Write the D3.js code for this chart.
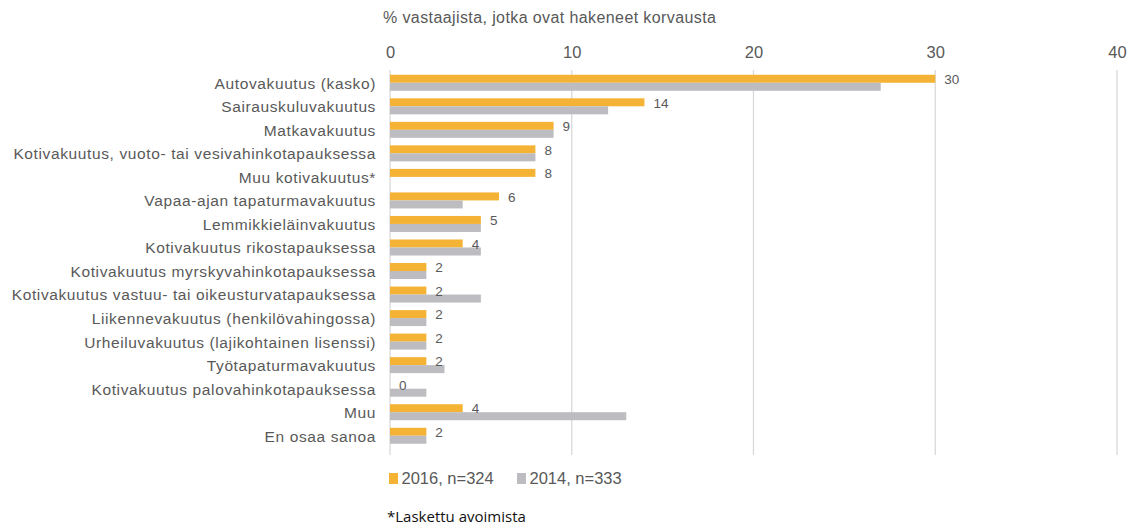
<!DOCTYPE html>
<html><head><meta charset="utf-8">
<script src="https://cdn.jsdelivr.net/npm/d3@7"></script>
<style>body{margin:0;background:#fff;} text{font-family:"Liberation Sans",Arial,sans-serif;}</style>
</head><body><svg id="c" width="1132" height="528"></svg>
<script>
const categories = ["Autovakuutus (kasko)","Sairauskuluvakuutus","Matkavakuutus","Kotivakuutus, vuoto- tai vesivahinkotapauksessa","Muu kotivakuutus*","Vapaa-ajan tapaturmavakuutus","Lemmikkieläinvakuutus","Kotivakuutus rikostapauksessa","Kotivakuutus myrskyvahinkotapauksessa","Kotivakuutus vastuu- tai oikeusturvatapauksessa","Liikennevakuutus (henkilövahingossa)","Urheiluvakuutus (lajikohtainen lisenssi)","Työtapaturmavakuutus","Kotivakuutus palovahinkotapauksessa","Muu","En osaa sanoa"];
const values2016 = [30,14,9,8,8,6,5,4,2,2,2,2,2,0,4,2];
const values2014 = [27,12,9,8,null,4,5,5,2,5,2,2,3,2,13,2];
const seriesNames = ["2016, n=324","2014, n=333"];
const xTicks = [0,10,20,30,40];
const axisTitle = "% vastaajista, jotka ovat hakeneet korvausta";
const footnote = "*Laskettu avoimista";

const svg = d3.select("#c");
const orange = "#F5B335", gray = "#BCBCC1", txt = "#595959", grid = "#D9D9D9";
const x = d3.scaleLinear().domain([0,40]).range([390,1117]);
const y = d3.scaleBand().domain(categories).range([71.5,448]);

// gridlines
svg.append("g").selectAll("line").data(xTicks).join("line")
  .attr("x1",d=>x(d)).attr("x2",d=>x(d)).attr("y1",70).attr("y2",455)
  .attr("stroke",grid).attr("stroke-width",1.3);

// top axis labels
const ax = svg.append("g").attr("transform","translate(0,58)")
  .call(d3.axisTop(x).tickValues(xTicks).tickSize(0).tickPadding(0));
ax.select(".domain").remove();
ax.selectAll("text").attr("fill",txt).style("font-size","16.5px").style("font-family","Liberation Sans, Arial, sans-serif");

svg.append("text").attr("x",383).attr("y",23).attr("fill",txt).style("font-size","16px").style("letter-spacing","0.4px").text(axisTitle);

const bh = 8;
const g = svg.append("g");
g.selectAll(".b16").data(categories).join("rect")
  .attr("x",x(0)).attr("y",d=>y(d)+y.bandwidth()/2-bh-0.5)
  .attr("width",(d,i)=>x(values2016[i])-x(0)).attr("height",bh).attr("fill",orange);
g.selectAll(".b14").data(categories.filter((d,i)=>values2014[i]!=null)).join("rect")
  .attr("x",x(0)).attr("y",d=>y(d)+y.bandwidth()/2-0.5)
  .attr("width",d=>x(values2014[categories.indexOf(d)])-x(0)).attr("height",bh).attr("fill",gray);

// value labels
g.selectAll(".lab").data(categories).join("text")
  .attr("x",(d,i)=>x(values2016[i])+9).attr("y",d=>y(d)+y.bandwidth()/2-4)
  .attr("dy","0.35em").attr("fill",txt).style("font-size","13.5px")
  .text((d,i)=>values2016[i]);

// category labels
g.selectAll(".cat").data(categories).join("text")
  .attr("x",376).attr("y",d=>y(d)+y.bandwidth()/2).attr("dy","0.35em")
  .attr("text-anchor","end").attr("fill",txt).style("font-size","15.5px").style("letter-spacing","0.62px").text(d=>d);

// legend
const leg = svg.append("g");
const lx = [389,517];
seriesNames.forEach((s,i)=>{
  leg.append("rect").attr("x",lx[i]).attr("y",473).attr("width",9).attr("height",11).attr("fill",i?gray:orange);
  leg.append("text").attr("x",lx[i]+12.5).attr("y",484).attr("fill",txt).style("font-size","16.5px").text(s);
});
svg.append("text").attr("x",387).attr("y",522).attr("fill","#111").style("font-size","15px").style("font-family","'Open Sans',sans-serif").text(footnote);
</script></body></html>
